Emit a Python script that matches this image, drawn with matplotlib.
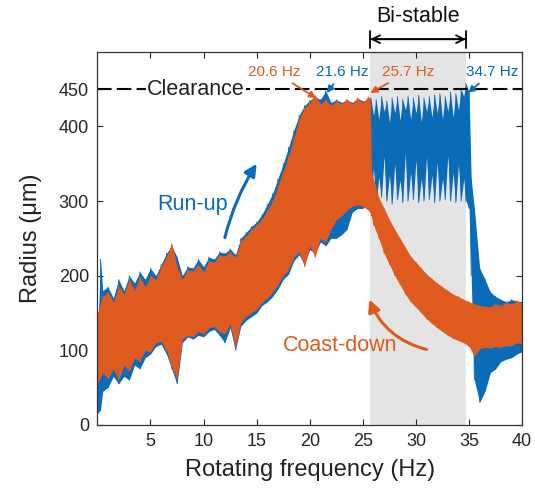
import numpy as np
import matplotlib
matplotlib.use("Agg")
import matplotlib.pyplot as plt

plt.rcParams['font.family'] = ['Liberation Sans', 'DejaVu Sans']

# ---------------- data (envelopes) ----------------
# Coast-down (orange)
cd_freq = [0.0, 0.5, 1.0, 1.5, 2.0, 2.5, 3.0, 3.5, 4.0, 4.5, 5.0, 5.5, 6.0, 6.5, 7.0, 7.5,
           8.0, 8.5, 9.0, 9.5, 10.0, 10.5, 11.0, 11.5, 12.0, 12.5, 13.0, 13.5, 14.0, 14.5,
           15.0, 15.5, 16.0, 16.5, 17.0, 17.5, 18.0, 18.5, 19.0, 19.5, 20.0, 20.5, 21.0,
           21.5, 22.0, 22.5, 23.0, 23.5, 24.0, 24.5, 25.0, 25.5, 25.7, 25.8, 26.0, 26.5,
           27.0, 27.5, 28.0, 28.5, 29.0, 29.5, 30.0, 30.5, 31.0, 31.5, 32.0, 32.5, 33.0,
           33.5, 34.0, 34.5, 35.0, 35.5, 36.0, 36.5, 37.0, 37.5, 38.0, 38.5, 39.0, 39.5, 40.0]
cd_low = [55, 70, 62, 75, 60, 80, 72, 90, 85, 100, 98, 110, 112, 100, 78, 62,
          115, 120, 118, 125, 122, 130, 132, 125, 122, 135, 105, 137, 145, 150,
          155, 164, 170, 178, 188, 200, 208, 225, 232, 212, 240, 225, 250,
          245, 262, 275, 280, 288, 293, 295, 293, 288, 285, 280, 268, 250,
          230, 215, 200, 188, 175, 165, 158, 150, 142, 136, 130, 125, 120,
          116, 113, 110, 105, 92, 102, 104, 103, 105, 104, 106, 106, 110, 108]
cd_high = [150, 172, 178, 165, 186, 175, 195, 180, 199, 185, 200, 195, 212, 225, 243, 212,
           195, 208, 206, 215, 205, 220, 218, 228, 226, 232, 224, 246, 253, 262,
           268, 276, 288, 300, 320, 340, 360, 385, 410, 425, 432, 442, 430,
           436, 428, 434, 430, 436, 430, 438, 432, 440, 438, 340, 330, 305,
           290, 275, 262, 250, 238, 226, 218, 210, 202, 196, 190, 185, 180,
           175, 172, 168, 165, 162, 160, 159, 158, 162, 160, 164, 162, 166, 163]

# Run-up (blue)
ru_freq = [0.0, 0.3, 0.5, 1.0, 1.5, 2.0, 2.5, 3.0, 3.5, 4.0, 4.5, 5.0, 5.5, 6.0, 6.5, 7.0,
           7.5, 8.0, 8.5, 9.0, 9.5, 10.0, 10.5, 11.0, 11.5, 12.0, 12.5, 13.0, 13.5, 14.0,
           14.5, 15.0, 15.5, 16.0, 16.5, 17.0, 17.5, 18.0, 18.5, 19.0, 19.5, 20.0, 20.5,
           21.0, 21.5, 22.0, 22.5, 23.0, 23.5, 24.0, 24.5, 25.0, 25.5,
           25.75, 26.0, 26.25, 26.5, 26.75, 27.0, 27.25, 27.5, 27.75, 28.0, 28.25, 28.5,
           28.75, 29.0, 29.25, 29.5, 29.75, 30.0, 30.25, 30.5, 30.75, 31.0, 31.25, 31.5,
           31.75, 32.0, 32.25, 32.5, 32.75, 33.0, 33.25, 33.5, 33.75, 34.0, 34.25, 34.5,
           34.7, 35.0, 35.2, 35.5, 36.0, 36.5, 37.0, 37.5, 38.0, 38.5, 39.0, 39.5, 40.0]
ru_low = [15, 20, 45, 50, 65, 55, 65, 60, 80, 75, 90, 95, 105, 108, 95, 75,
          55, 110, 118, 115, 120, 118, 125, 128, 120, 110, 130, 100, 132, 140,
          145, 150, 160, 165, 172, 182, 195, 202, 220, 228, 215, 235, 230,
          245, 240, 250, 250, 255, 262, 285, 290, 290, 300,
          302, 345, 298, 332, 305, 360, 300, 335, 296, 350, 302, 328,
          298, 365, 300, 338, 302, 355, 298, 330, 300, 360, 302, 335,
          298, 352, 300, 330, 302, 362, 300, 338, 298, 350, 300, 330,
          300, 290, 200, 60, 30, 45, 70, 75, 85, 88, 90, 95, 98]
ru_high = [110, 222, 180, 185, 170, 195, 180, 200, 190, 205, 195, 210, 200, 215, 230, 240,
           225, 200, 212, 210, 222, 212, 225, 222, 232, 230, 236, 228, 250, 258,
           266, 272, 282, 296, 310, 330, 350, 372, 395, 415, 428, 435, 440,
           436, 448, 432, 436, 432, 436, 432, 438, 434, 436,
           438, 415, 436, 410, 440, 420, 434, 405, 438, 418, 440, 408,
           436, 422, 440, 410, 438, 418, 442, 406, 438, 420, 440, 412,
           442, 418, 444, 410, 440, 420, 446, 412, 444, 422, 450, 440,
           458, 445, 330, 290, 210, 195, 178, 172, 168, 165, 168, 166, 165]

clearance = 450
bistable = (25.7, 34.7)
xticks = [5, 10, 15, 20, 25, 30, 35, 40]
yticks = [0, 100, 200, 300, 400, 450]

BLUE = '#0A6BB8'
ORANGE = '#DE5A1E'

# ---------------- figure ----------------
fig = plt.figure(figsize=(5.35, 4.94), dpi=100)
ax = fig.add_axes([0.182, 0.14, 0.794, 0.755])

ax.axvspan(bistable[0], bistable[1], color='#E4E4E4', lw=0, zorder=0)


def draw(freq, lo, hi, color, z):
    f = np.asarray(freq, float)
    lo = np.asarray(lo, float)
    hi = np.asarray(hi, float)
    ax.fill_between(f, lo, hi, color=color, lw=0, zorder=z)
    xs = np.repeat(f, 2)
    ys = np.column_stack([lo, hi]).ravel()
    ax.plot(xs, ys, color=color, lw=0.6, zorder=z)


draw(ru_freq, ru_low, ru_high, BLUE, 2)
draw(cd_freq, cd_low, cd_high, ORANGE, 3)

# clearance line
ax.axhline(clearance, color='black', lw=1.5, dashes=(7, 2.5), zorder=4)
ax.text(9.3, clearance, 'Clearance', fontsize=15.5, ha='center', va='center',
        color='#222222', zorder=5,
        bbox=dict(facecolor='white', edgecolor='none', pad=1.0))

# frequency labels with arrows
lab_y = 473
ax.annotate('20.6 Hz', xy=(20.6, 438), xytext=(16.7, lab_y), color=ORANGE, fontsize=11,
            ha='center', va='center', zorder=6,
            arrowprops=dict(arrowstyle='-|>', color=ORANGE, lw=1.3, mutation_scale=10,
                            shrinkA=2, shrinkB=0))
ax.annotate('21.6 Hz', xy=(21.6, 445), xytext=(23.1, lab_y), color=BLUE, fontsize=11,
            ha='center', va='center', zorder=6,
            arrowprops=dict(arrowstyle='-|>', color=BLUE, lw=1.3, mutation_scale=10,
                            shrinkA=2, shrinkB=0))
ax.annotate('25.7 Hz', xy=(25.7, 445), xytext=(29.3, lab_y), color=ORANGE, fontsize=11,
            ha='center', va='center', zorder=6,
            arrowprops=dict(arrowstyle='-|>', color=ORANGE, lw=1.3, mutation_scale=10,
                            shrinkA=2, shrinkB=0))
ax.annotate('34.7 Hz', xy=(34.9, 445), xytext=(37.2, lab_y), color=BLUE, fontsize=11,
            ha='center', va='center', zorder=6,
            arrowprops=dict(arrowstyle='-|>', color=BLUE, lw=1.3, mutation_scale=10,
                            shrinkA=2, shrinkB=0))

# Bi-stable bracket
ax.annotate('', xy=(bistable[1], 517), xytext=(bistable[0], 517),
            arrowprops=dict(arrowstyle='|-|', color='black', lw=1.3, mutation_scale=6,
                            shrinkA=0, shrinkB=0), annotation_clip=False)
ax.annotate('', xy=(bistable[1], 517), xytext=(bistable[0], 517),
            arrowprops=dict(arrowstyle='<->', color='black', lw=1.3, mutation_scale=14,
                            shrinkA=0, shrinkB=0), annotation_clip=False)
ax.text((bistable[0] + bistable[1]) / 2, 548, 'Bi-stable', fontsize=15.5, ha='center',
        va='center', color='#111111', clip_on=False)

# Run-up and Coast-down labels
ax.text(9.0, 296, 'Run-up', fontsize=15.5, color=BLUE, ha='center', va='center')
ax.annotate('', xy=(15.0, 350), xytext=(12.0, 251),
            arrowprops=dict(arrowstyle='-|>', color=BLUE, lw=2.2, mutation_scale=18,
                            connectionstyle='arc3,rad=-0.08', shrinkA=0, shrinkB=0))
ax.text(22.9, 107, 'Coast-down', fontsize=15.5, color=ORANGE, ha='center', va='center')
ax.annotate('', xy=(25.6, 168), xytext=(31.0, 101),
            arrowprops=dict(arrowstyle='-|>', color=ORANGE, lw=2.2, mutation_scale=18,
                            connectionstyle='arc3,rad=-0.25', shrinkA=0, shrinkB=0))

ax.set_xlim(0, 40)
ax.set_ylim(0, 500)
ax.set_xticks(xticks)
ax.set_yticks(yticks)
ax.tick_params(direction='in', top=True, right=True, labelsize=13, length=4,
               width=0.8, colors='#262626', pad=6)
for s in ax.spines.values():
    s.set_linewidth(0.9)
    s.set_color('#333333')
    s.set_zorder(7)

ax.set_xlabel('Rotating frequency (Hz)', fontsize=17, color='#222222', labelpad=6)
ax.set_ylabel('Radius (μm)', fontsize=17, color='#222222', labelpad=12)

fig.savefig('out.png', dpi=100)
